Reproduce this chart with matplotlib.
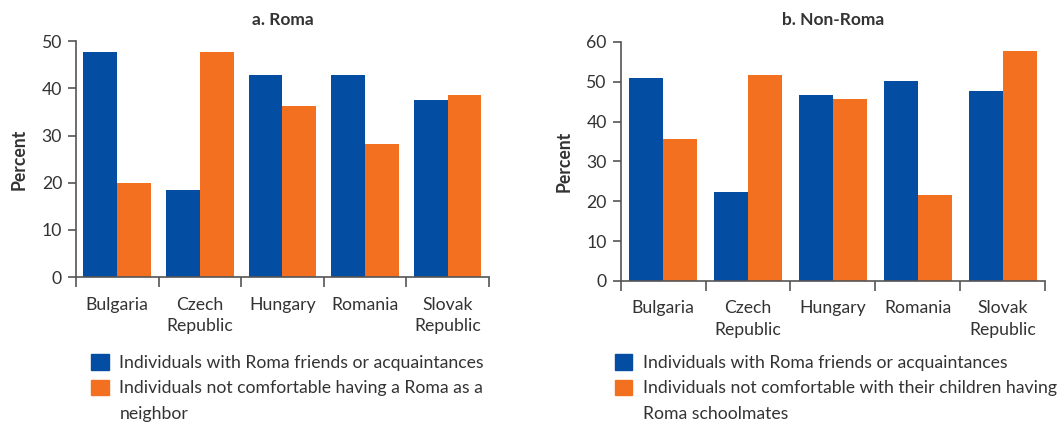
import numpy as np
import matplotlib.pyplot as plt
from matplotlib.patches import Patch

plt.rcParams['font.family'] = ['Lato', 'DejaVu Sans']

countries = ['Bulgaria', 'Czech\nRepublic', 'Hungary', 'Romania', 'Slovak\nRepublic']

# a. Roma
roma_friends = [47.7, 18.4, 42.8, 42.8, 37.5]
roma_neighbor = [19.9, 47.7, 36.2, 28.2, 38.6]

# b. Non-Roma
nonroma_friends = [51.0, 22.3, 46.7, 50.2, 47.7]
nonroma_school = [35.7, 51.7, 45.7, 21.6, 57.7]

# legend lines (second label wraps onto a third line)
legend_a = ['Individuals with Roma friends or acquaintances',
            'Individuals not comfortable having a Roma as a',
            'neighbor']
legend_b = ['Individuals with Roma friends or acquaintances',
            'Individuals not comfortable with their children having',
            'Roma schoolmates']

blue = '#034ea2'
orange = '#f37021'
grey = '#555555'
txt = '#333333'
fs = 12.7


def draw_panel(ax, s1, s2, title, ymax, w):
    x = np.arange(len(countries))
    ax.bar(x - w / 2, s1, w, color=blue, zorder=2)
    ax.bar(x + w / 2, s2, w, color=orange, zorder=2)
    ax.set_xlim(-0.5, len(countries) - 0.5)
    ax.set_ylim(0, ymax)
    ax.set_yticks(np.arange(0, ymax + 1, 10))
    ax.set_xticks(x)
    ax.set_xticklabels(countries, fontsize=fs, color=txt, linespacing=1.4)
    ax.set_xticks(np.arange(-0.5, len(countries)), minor=True)
    ax.tick_params(axis='x', which='major', length=0, pad=14)
    ax.tick_params(axis='x', which='minor', length=7, width=1.2, color=grey, direction='out')
    ax.tick_params(axis='y', length=6, width=1.2, color=grey, labelsize=fs, labelcolor=txt, pad=4)
    for s in ['top', 'right']:
        ax.spines[s].set_visible(False)
    for s in ['left', 'bottom']:
        ax.spines[s].set_color(grey)
        ax.spines[s].set_linewidth(1.2)
    ax.spines['bottom'].set_zorder(3)
    ax.set_ylabel('Percent', fontsize=fs, fontweight='bold', color=txt, labelpad=10)
    ax.set_title(title, fontsize=12.5, fontweight='bold', color=txt, pad=12)


fig = plt.figure(figsize=(10.64, 4.25), dpi=100)
ax1 = fig.add_axes([0.0714, 0.348, 0.388, 0.555])
ax2 = fig.add_axes([0.5834, 0.339, 0.3988, 0.5624])

draw_panel(ax1, roma_friends, roma_neighbor, 'a. Roma', 50, 0.41)
draw_panel(ax2, nonroma_friends, nonroma_school, 'b. Non-Roma', 60, 0.40)

for labels, xa in [(legend_a, 0.079), (legend_b, 0.571)]:
    handles = [Patch(color=blue, label=labels[0]),
               Patch(color=orange, label=labels[1]),
               Patch(facecolor='none', edgecolor='none', label=labels[2])]
    fig.legend(handles=handles, loc='upper left', bbox_to_anchor=(xa, 0.183),
               frameon=False, fontsize=fs, handlelength=1.0, handleheight=1.0,
               handletextpad=0.6, labelspacing=0.47, borderaxespad=0, labelcolor=txt)

fig.savefig('out.png', dpi=100)
